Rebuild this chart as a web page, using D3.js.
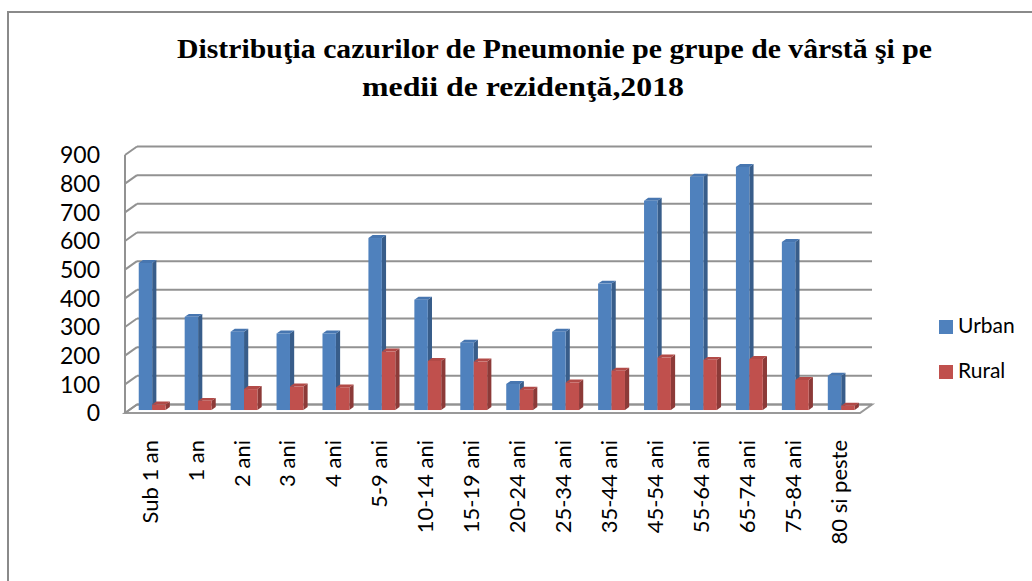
<!DOCTYPE html>
<html>
<head>
<meta charset="utf-8">
<script src="https://cdn.jsdelivr.net/npm/d3@7"></script>
<style>
  body { margin: 0; background: #fff; }
  svg { display: block; }
</style>
</head>
<body>
<div id="chart"></div>
<script>
// Distributia cazurilor de Pneumonie, 2018 - 3D clustered columns

var categories = ["Sub 1 an", "1 an", "2 ani", "3 ani", "4 ani", "5-9 ani", "10-14 ani",
  "15-19 ani", "20-24 ani", "25-34 ani", "35-44 ani", "45-54 ani", "55-64 ani",
  "65-74 ani", "75-84 ani", "80 si peste"];

var urban = [513, 325, 273, 267, 267, 600, 385, 235, 91, 273, 441, 730, 814, 848, 586, 120];
var rural = [19, 32, 73, 82, 79, 204, 171, 169, 71, 96, 137, 183, 175, 178, 105, 15];

var seriesNames = ["Urban", "Rural"];
var yTicks = [0, 100, 200, 300, 400, 500, 600, 700, 800, 900];
var titleLines = ["Distribuţia cazurilor de Pneumonie pe grupe de vârstă şi pe", "medii de rezidenţă,2018"];

var width = 1032,
    height = 581;

// depth offset of the back wall (3D look)
var depthX = 12,
    depthY = -8.5;
// bars stand between these depths (0 = front, 1 = back wall)
var barZ0 = 0.35,
    barZ1 = 0.7;

var colors = {
  Urban: { front: "#4f81bd", side: "#385d8a", top: "#4776b0" },
  Rural: { front: "#c0504d", side: "#8c3a38", top: "#b24a47" }
};

var x0 = d3.scaleBand()
    .domain(categories)
    .range([125, 860]);

var x1 = d3.scaleBand()
    .domain(seriesNames)
    .range([0, x0.bandwidth()])
    .paddingOuter(0.71);

var y = d3.scaleLinear()
    .domain([0, 900])
    .range([413, 155]);

var svg = d3.select("#chart").append("svg")
    .attr("width", width)
    .attr("height", height);

// outer frame
svg.append("rect")
    .attr("x", 8)
    .attr("y", 12)
    .attr("width", 1100)
    .attr("height", 700)
    .style("fill", "none")
    .style("stroke", "#8a8a8a")
    .style("stroke-width", 2);

// title (the picture is a bit stretched sideways, so fit the widths)
svg.selectAll(".title")
    .data(titleLines)
  .enter().append("text")
    .attr("class", "title")
    .attr("x", function(d, i) { return i == 0 ? 177 : 362; })
    .attr("y", function(d, i) { return 58 + i * 38; })
    .attr("textLength", function(d, i) { return i == 0 ? 755 : 322; })
    .attr("lengthAdjust", "spacingAndGlyphs")
    .style("font-family", "'Liberation Serif', 'Times New Roman', serif")
    .style("font-weight", "bold")
    .style("font-size", "28px")
    .text(function(d) { return d; });

// floor
var x0min = x0.range()[0], x0max = x0.range()[1];
svg.append("path")
    .attr("d", "M" + x0min + "," + y(0) + "L" + x0max + "," + y(0) +
      "L" + (x0max + depthX) + "," + (y(0) + depthY) +
      "L" + (x0min + depthX) + "," + (y(0) + depthY) + "Z")
    .style("fill", "#fff")
    .style("stroke", "#999")
    .style("stroke-width", 2);

// back wall gridlines + side wall diagonals
var grid = svg.append("g").attr("class", "grid");

grid.selectAll(".hline")
    .data(yTicks)
  .enter().append("line")
    .attr("x1", x0min + depthX)
    .attr("x2", x0max + depthX)
    .attr("y1", function(d) { return y(d) + depthY; })
    .attr("y2", function(d) { return y(d) + depthY; })
    .style("stroke", "#929292")
    .style("stroke-width", 2);

grid.selectAll(".diag")
    .data(yTicks)
  .enter().append("line")
    .attr("x1", x0min)
    .attr("x2", x0min + depthX)
    .attr("y1", function(d) { return y(d); })
    .attr("y2", function(d) { return y(d) + depthY; })
    .style("stroke", "#929292")
    .style("stroke-width", 2);

grid.append("line")
    .attr("x1", x0min)
    .attr("x2", x0min)
    .attr("y1", y(900))
    .attr("y2", y(0))
    .style("stroke", "#929292")
    .style("stroke-width", 2);

// y labels
svg.selectAll(".ylab")
    .data(yTicks)
  .enter().append("text")
    .attr("class", "ylab")
    .attr("x", 100)
    .attr("y", function(d) { return y(d); })
    .attr("dy", "0.36em")
    .attr("text-anchor", "end")
    .style("font-family", "Lato, 'Open Sans', sans-serif")
    .style("font-size", "23px")
    .style("fill", "#000")
    .text(function(d) { return d; });

// bars
var bars = [];
categories.forEach(function(c, i) {
  bars.push({ cat: c, series: "Urban", value: urban[i] });
  bars.push({ cat: c, series: "Rural", value: rural[i] });
});

function barGeom(d) {
  var xl = x0(d.cat) + x1(d.series) + barZ0 * depthX,
      xr = xl + x1.bandwidth(),
      yb = y(0) + barZ0 * depthY,
      yt = y(d.value) + barZ0 * depthY,
      ddx = (barZ1 - barZ0) * depthX,
      ddy = (barZ1 - barZ0) * depthY;
  return { xl: xl, xr: xr, yb: yb, yt: yt, ddx: ddx, ddy: ddy };
}

var g = svg.selectAll(".bar")
    .data(bars)
  .enter().append("g")
    .attr("class", "bar");

g.append("path")
    .attr("d", function(d) {
      var b = barGeom(d);
      return "M" + b.xr + "," + b.yt + "L" + b.xr + "," + b.yb +
        "L" + (b.xr + b.ddx) + "," + (b.yb + b.ddy) +
        "L" + (b.xr + b.ddx) + "," + (b.yt + b.ddy) + "Z";
    })
    .style("fill", function(d) { return colors[d.series].side; });

g.append("path")
    .attr("d", function(d) {
      var b = barGeom(d);
      return "M" + b.xl + "," + b.yt + "L" + b.xr + "," + b.yt +
        "L" + (b.xr + b.ddx) + "," + (b.yt + b.ddy) +
        "L" + (b.xl + b.ddx) + "," + (b.yt + b.ddy) + "Z";
    })
    .style("fill", function(d) { return colors[d.series].top; });

g.append("rect")
    .attr("x", function(d) { return barGeom(d).xl; })
    .attr("y", function(d) { return barGeom(d).yt; })
    .attr("width", x1.bandwidth())
    .attr("height", function(d) { var b = barGeom(d); return b.yb - b.yt; })
    .style("fill", function(d) { return colors[d.series].front; });

// category labels
svg.selectAll(".xlab")
    .data(categories)
  .enter().append("text")
    .attr("class", "xlab")
    .attr("transform", function(d) {
      return "translate(" + (x0(d) + x0.bandwidth() / 2 + 2) + ",440) rotate(-90)";
    })
    .attr("dy", "0.35em")
    .attr("text-anchor", "end")
    .style("font-family", "Lato, 'Open Sans', sans-serif")
    .style("font-size", "22px")
    .style("fill", "#000")
    .text(function(d) { return d; });

// legend
var legend = svg.selectAll(".legend")
    .data(seriesNames)
  .enter().append("g")
    .attr("class", "legend")
    .attr("transform", function(d, i) { return "translate(939," + (320 + i * 45) + ")"; });

legend.append("rect")
    .attr("width", 14)
    .attr("height", 14)
    .style("fill", function(d) { return colors[d].front; });

legend.append("text")
    .attr("x", 19)
    .attr("y", 13)
    .style("font-family", "Lato, 'Open Sans', sans-serif")
    .style("font-size", "21px")
    .style("fill", "#000")
    .text(function(d) { return d; });
</script>
</body>
</html>
